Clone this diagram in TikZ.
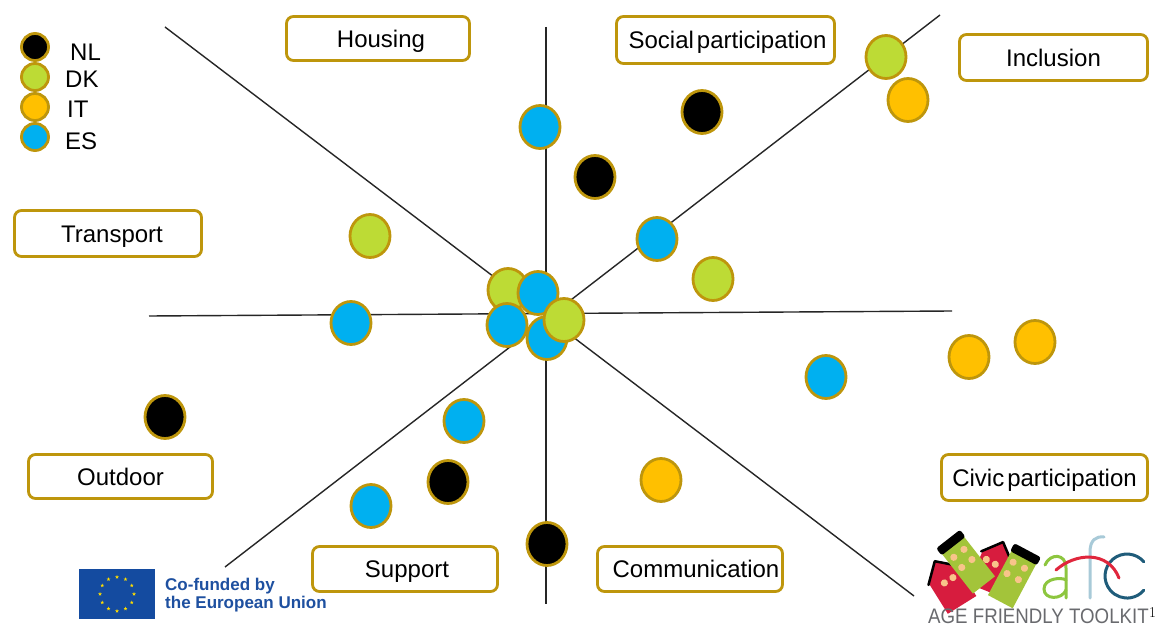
\documentclass[tikz,border=0pt]{standalone}
\usepackage{fontspec}
\setmainfont{Liberation Sans}
\newfontfamily\lmr{Latin Modern Roman}
\usetikzlibrary{shapes.geometric}
\definecolor{gold}{RGB}{190,150,12}
\definecolor{esblue}{RGB}{0,176,240}
\definecolor{dkgreen}{RGB}{189,219,53}
\definecolor{itorange}{RGB}{255,192,0}
\definecolor{eublue}{RGB}{20,75,160}
\definecolor{eutext}{RGB}{30,80,160}
\definecolor{euyellow}{RGB}{255,221,0}
\definecolor{afcred}{RGB}{215,28,62}
\definecolor{afcgreen}{RGB}{163,196,58}
\definecolor{afcdot}{RGB}{248,196,138}
\definecolor{afca}{RGB}{141,198,63}
\definecolor{afcf}{RGB}{168,202,216}
\definecolor{afcc}{RGB}{31,92,122}
\definecolor{afcsw}{RGB}{224,38,60}
\definecolor{afcgray}{RGB}{105,106,110}
\tikzset{
  axisline/.style={line width=1.4pt, draw=black!85},
  dot/.style={ellipse, draw=gold, line width=2.8pt, minimum width=40pt, minimum height=43pt, inner sep=0pt},
  nl/.style={dot, fill=black},
  es/.style={dot, fill=esblue},
  dk/.style={dot, fill=dkgreen},
  it/.style={dot, fill=itorange},
  ldot/.style={circle, draw=gold, line width=2.8pt, minimum size=27pt, inner sep=0pt},
  lbl/.style={draw=gold, line width=2.8pt, rounded corners=7pt, fill=white,
    font=\fontsize{24}{28}\selectfont, inner sep=0pt, text=black,
    text height=17.2pt, text depth=0pt},
  legtxt/.style={anchor=base west, font=\fontsize{24}{28}\selectfont, inner sep=0pt},
  eutxt/.style={anchor=base west, font=\fontsize{17}{20}\selectfont\bfseries, text=eutext, inner sep=0pt},
  afcstroke/.style={line width=3pt, line cap=round},
  housedot/.style={fill=afcdot},
  roofline/.style={line width=2.5pt, black, line cap=round, line join=round},
}
\begin{document}
\begin{tikzpicture}[x=1pt,y=-1pt]
\useasboundingbox[fill=white] (0,0) rectangle (1162,628);

% axes
\coordinate (vt) at (546,27);
\coordinate (vb) at (546,604);
\coordinate (hl) at (149,316);
\coordinate (hr) at (952,311);
\coordinate (nw) at (165,27);
\coordinate (se) at (914,596);
\coordinate (ne) at (940,15);
\coordinate (sw) at (225,567);
\draw[axisline] (vt) -- (vb);
\draw[axisline] (hl) -- (hr);
\draw[axisline] (nw) -- (se);
\draw[axisline] (ne) -- (sw);

% label boxes
\node[lbl, minimum width=183pt, minimum height=44pt] (housing) at (378,38.5) {\hspace{6pt}Housing};
\node[lbl, minimum width=218pt, minimum height=47pt] (social) at (725.5,40) {\hspace{4pt}Social\kern-0.15em\ participation};
\node[lbl, minimum width=188pt, minimum height=46pt] (inclusion) at (1053.5,57.5) {Inclusion};
\node[lbl, minimum width=187pt, minimum height=46pt] (transport) at (108,233.5) {\hspace{8pt}Transport};
\node[lbl, minimum width=184pt, minimum height=44pt] (outdoor) at (120.5,476.5) {Outdoor};
\node[lbl, minimum width=206pt, minimum height=46pt] (civic) at (1044.5,477.5) {Civic\kern-0.15em\ participation};
\node[lbl, minimum width=185pt, minimum height=45pt] (support) at (405,569) {\hspace{4pt}Support};
\node[lbl, minimum width=185pt, minimum height=45pt] (communication) at (690,569) {\hspace{12pt}Communication};

% data dots
\node[nl] (nl1) at (702,112) {};
\node[nl] (nl2) at (595,177) {};
\node[nl] (nl3) at (165,417) {};
\node[nl] (nl4) at (448,482) {};
\node[nl] (nl5) at (547,544) {};
\node[es] (es1) at (540,127) {};
\node[es] (es2) at (657,239) {};
\node[es] (es3) at (351,323) {};
\node[es] (es4) at (826,377) {};
\node[es] (es5) at (464,421) {};
\node[es] (es6) at (371,506) {};
\node[dk] (dk1) at (886,57) {};
\node[dk] (dk2) at (370,236) {};
\node[dk] (dk3) at (713,279) {};
\node[it] (it1) at (908,100) {};
\node[it] (it2) at (969,357) {};
\node[it] (it3) at (1035,342) {};
\node[it] (it4) at (661,480) {};
% centre cluster
\node[dk] (c1) at (508,290) {};
\node[es] (c2) at (538,293) {};
\node[es] (c3) at (547,338) {};
\node[es] (c4) at (507,325) {};
\node[dk] (c5) at (564,320) {};

% legend
\node[ldot, fill=black] (lnl) at (35,47) {};
\node[ldot, fill=dkgreen] (ldk) at (35,77) {};
\node[ldot, fill=itorange] (lit) at (35,107) {};
\node[ldot, fill=esblue] (les) at (35,137) {};
\node[legtxt] (tnl) at (70,61) {NL};
\node[legtxt] (tdk) at (65,88) {DK};
\node[legtxt] (tit) at (67,118) {IT};
\node[legtxt] (tes) at (65,150) {ES};

% EU logo
\fill[eublue] (79,569) rectangle (155,619);
\foreach \a [count=\i] in {0,30,...,330}
  \node[star, star points=5, star point ratio=2.4, fill=euyellow, minimum size=4pt, inner sep=0pt]
    (eustar\i) at ({117+17*cos(\a)},{594+17*sin(\a)}) {};
\node[eutxt] (eu1) at (165,590) {Co-funded by};
\node[eutxt] (eu2) at (165,608) {the European Union};

% AFC logo: houses
\begin{scope}[shift={(949,584)}, rotate=32, scale=1.12]
  \fill[afcred] (-15,-10) -- (0,-24) -- (15,-10) -- (15,22) -- (-15,22) -- cycle;
  \draw[roofline] (-16,-9) -- (0,-24) -- (15,-10);
  \fill[housedot] (-3,-3) circle (3.2) (6,-3) circle (3.2);
\end{scope}
\begin{scope}[shift={(993,567)}, rotate=-22, scale=1.12]
  \fill[afcred] (-14,-10) -- (0,-24) -- (14,-10) -- (14,22) -- (-14,22) -- cycle;
  \draw[roofline] (-15,-9) -- (0,-24) -- (15,-9);
  \fill[housedot] (-8,-4) circle (3.2) (1,-3) circle (3.2);
\end{scope}
\begin{scope}[shift={(966,562)}, rotate=38, scale=1.12]
  \fill[afcgreen] (-12.5,-20) rectangle (12.5,26);
  \fill[black, rounded corners=2.5pt] (-13.5,-26) rectangle (13.5,-18);
  \fill[housedot] (-6,-10) circle (3.2) (5.5,-10) circle (3.2) (-6,1.5) circle (3.2) (5.5,1.5) circle (3.2);
\end{scope}
\begin{scope}[shift={(1014,576)}, rotate=-28, scale=1.12]
  \fill[afcgreen] (-12.5,-20) rectangle (12.5,26);
  \fill[black, rounded corners=2.5pt] (-13.5,-26) rectangle (13.5,-18);
  \fill[housedot] (-6.5,-10.5) circle (3.2) (5,-10.5) circle (3.2) (-6.5,1) circle (3.2) (5,1) circle (3.2);
\end{scope}
% letters a f c
\draw[afca, afcstroke] (1045,565) .. controls (1050,553) and (1066,553) .. (1066,568) -- (1066,598);
\draw[afca, afcstroke] (1066,580) .. controls (1062,577) and (1044,578) .. (1044,589) .. controls (1044,600) and (1062,600) .. (1066,590);
\draw[afcf, afcstroke] (1090,598) -- (1090,552) .. controls (1090,540) and (1096,536) .. (1104,537);
\draw[afcc, afcstroke] (1143.9,561.9) arc[start angle=-40, end angle=-320, radius=22];
\draw[afcsw, afcstroke] (1056,570) .. controls (1075,553) and (1108,550) .. (1119,578);
\node[anchor=base west, inner sep=0pt, font=\fontsize{21}{24}\selectfont, text=afcgray, xscale=0.89] (afctxt) at (928,623) {AGE FRIENDLY TOOLKIT};
\node[anchor=base west, inner sep=0pt, font=\lmr\fontsize{15}{17}\selectfont] (sup1) at (1149,617) {1};
\end{tikzpicture}
\end{document}
